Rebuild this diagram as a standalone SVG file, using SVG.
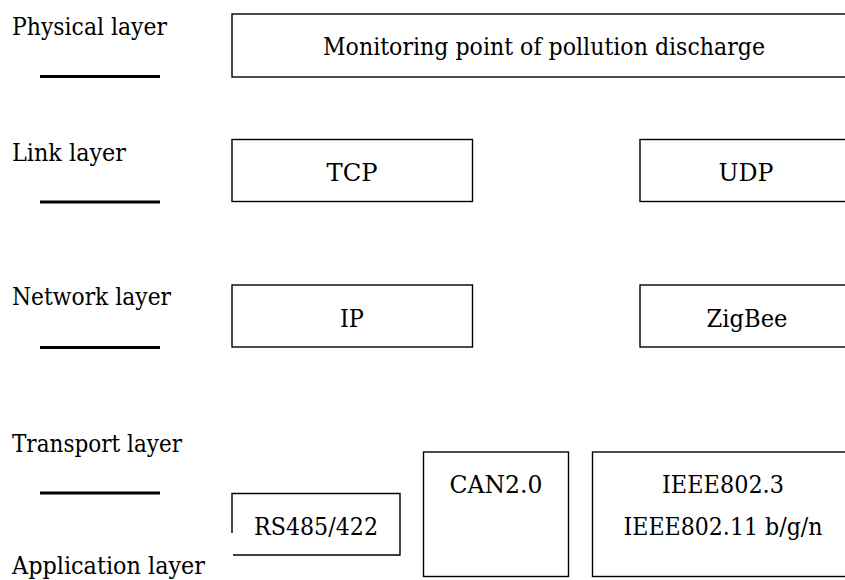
<svg xmlns="http://www.w3.org/2000/svg" width="845" height="580" viewBox="0 0 845 580">
  <style>
    .bg { fill: #ffffff; }
    .box { fill: #ffffff; stroke: #000000; stroke-width: 1.4; }
    .rule { stroke: #000000; stroke-width: 3; }
    .t { font-family: 'DejaVu Serif', serif; font-size: 24.5px; fill: #000000; }
    .c { text-anchor: middle; }
  </style>
  <rect class="bg" x="0" y="0" width="845" height="580"/>

  <!-- layer labels with separators -->
  <g id="layer-labels">
    <text class="t" x="12" y="35" textLength="155" lengthAdjust="spacingAndGlyphs">Physical layer</text>
    <line class="rule" x1="40" y1="76.5" x2="160" y2="76.5"/>
    <text class="t" x="12" y="161" textLength="114" lengthAdjust="spacingAndGlyphs">Link layer</text>
    <line class="rule" x1="40" y1="202" x2="160" y2="202"/>
    <text class="t" x="12" y="305" textLength="159" lengthAdjust="spacingAndGlyphs">Network layer</text>
    <line class="rule" x1="40" y1="347.5" x2="160" y2="347.5"/>
    <text class="t" x="12" y="452" textLength="170" lengthAdjust="spacingAndGlyphs">Transport layer</text>
    <line class="rule" x1="40" y1="493" x2="160" y2="493"/>
    <text class="t" x="12" y="574" textLength="193" lengthAdjust="spacingAndGlyphs">Application layer</text>
  </g>

  <g id="monitoring">
    <rect class="box" x="232" y="14" width="620" height="63"/>
    <text class="t c" x="544" y="55" textLength="442" lengthAdjust="spacingAndGlyphs">Monitoring point of pollution discharge</text>
  </g>

  <g id="tcp">
    <rect class="box" x="232" y="139.5" width="240.5" height="62"/>
    <text class="t c" x="352" y="181" textLength="51" lengthAdjust="spacingAndGlyphs">TCP</text>
  </g>

  <g id="udp">
    <rect class="box" x="640" y="139.5" width="212" height="62"/>
    <text class="t c" x="746" y="181" textLength="55" lengthAdjust="spacingAndGlyphs">UDP</text>
  </g>

  <g id="ip">
    <rect class="box" x="232" y="285" width="240.5" height="62"/>
    <text class="t c" x="352" y="327" textLength="24" lengthAdjust="spacingAndGlyphs">IP</text>
  </g>

  <g id="zigbee">
    <rect class="box" x="640" y="285" width="212" height="62"/>
    <text class="t c" x="747" y="327" textLength="81" lengthAdjust="spacingAndGlyphs">ZigBee</text>
  </g>

  <g id="rs485">
    <path class="box" d="M232 533 V493.5 H400 V555 H233"/>
    <text class="t c" x="316" y="535" textLength="124" lengthAdjust="spacingAndGlyphs">RS485/422</text>
  </g>

  <g id="can">
    <rect class="box" x="423.5" y="452" width="145" height="124.5"/>
    <text class="t c" x="496" y="493" textLength="93" lengthAdjust="spacingAndGlyphs">CAN2.0</text>
  </g>

  <g id="ieee">
    <rect class="box" x="592.5" y="452" width="260" height="124.5"/>
    <text class="t c" x="723" y="493" textLength="122" lengthAdjust="spacingAndGlyphs">IEEE802.3</text>
    <text class="t c" x="723" y="535" font-size="22" textLength="199" lengthAdjust="spacingAndGlyphs">IEEE802.11 b/g/n</text>
  </g>

  <g id="connectors"/>
</svg>
